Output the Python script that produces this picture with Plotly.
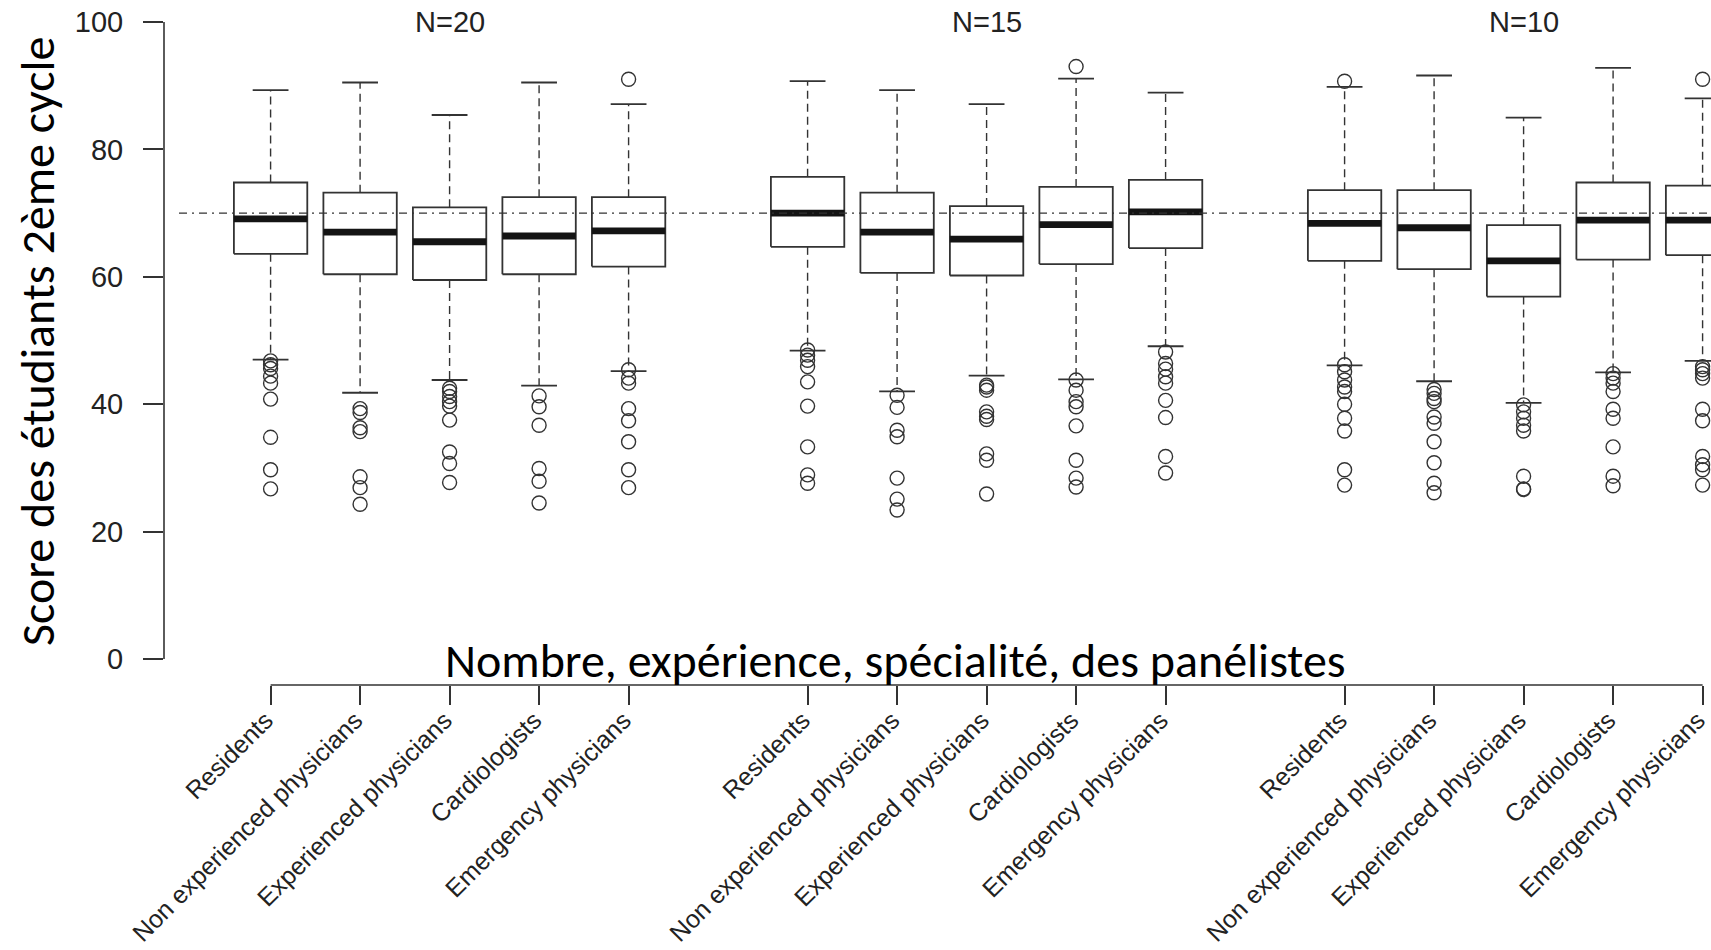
import plotly.graph_objects as go

# ---------------- data ----------------
groups = ["N=20", "N=15", "N=10"]
categories = ["Residents", "Non experienced physicians", "Experienced physicians",
              "Cardiologists", "Emergency physicians"]
positions = [1, 2, 3, 4, 5, 7, 8, 9, 10, 11, 13, 14, 15, 16, 17]
group_centers = [3, 9, 15]

q1 = [63.6, 60.4, 59.5, 60.4, 61.6,
      64.7, 60.6, 60.2, 62.0, 64.5,
      62.5, 61.2, 56.9, 62.7, 63.4]
medians = [69.1, 67.0, 65.5, 66.4, 67.2,
           70.0, 67.0, 65.9, 68.2, 70.2,
           68.4, 67.7, 62.5, 68.9, 68.9]
q3 = [74.8, 73.2, 70.9, 72.5, 72.5,
      75.7, 73.2, 71.1, 74.1, 75.2,
      73.6, 73.6, 68.1, 74.8, 74.3]
lower_whisker = [47.0, 41.8, 43.8, 42.9, 45.2,
                 48.4, 42.0, 44.5, 43.9, 49.1,
                 46.1, 43.6, 40.2, 45.0, 46.8]
upper_whisker = [89.3, 90.5, 85.4, 90.5, 87.1,
                 90.7, 89.3, 87.1, 91.1, 88.9,
                 89.8, 91.6, 85.0, 92.8, 88.0]
outliers = [
    [46.8, 46.2, 45.6, 44.4, 43.3, 40.8, 34.8, 29.7, 26.7],
    [39.3, 38.7, 36.3, 35.7, 28.6, 26.9, 24.3],
    [42.5, 42.0, 41.2, 40.4, 39.7, 37.5, 32.5, 30.7, 27.7],
    [41.3, 39.6, 36.7, 29.9, 27.9, 24.5],
    [91.0, 45.4, 44.1, 43.3, 39.3, 37.4, 34.1, 29.7, 26.9],
    [48.5, 47.7, 46.9, 45.9, 43.5, 39.7, 33.3, 28.9, 27.6],
    [41.4, 39.5, 35.9, 34.9, 28.4, 25.1, 23.4],
    [43.0, 42.7, 42.2, 38.8, 38.1, 37.6, 32.2, 31.2, 25.9],
    [93.0, 43.8, 42.2, 40.4, 39.6, 36.6, 31.2, 28.4, 27.0],
    [48.2, 46.4, 45.5, 44.3, 43.3, 40.6, 37.9, 31.8, 29.2],
    [90.7, 46.2, 45.1, 43.8, 42.7, 42.0, 40.0, 37.8, 35.8, 29.7, 27.3],
    [42.3, 41.7, 40.9, 40.4, 38.0, 37.0, 34.1, 30.8, 27.6, 26.1],
    [39.9, 38.8, 37.8, 36.7, 35.8, 28.7, 26.7, 26.6],
    [44.8, 44.1, 43.3, 42.0, 39.2, 37.8, 33.3, 28.7, 27.2],
    [91.0, 45.9, 45.4, 44.8, 44.1, 39.2, 37.4, 31.8, 30.5, 29.7, 27.3],
]
reference_line = 70
y_ticks = [0, 20, 40, 60, 80, 100]
tick_labels = categories * 3
y_title = "Score des étudiants 2ème cycle"
x_title = "Nombre, expérience, spécialité, des panélistes"

# ---------------- styling ----------------
BW = 0.41      # half box width
CAP = 0.2      # half cap width
LINE = "#333333"
W, H = 1711, 950
ML, MB = 164, 265

box_x, box_y = [], []
med_x, med_y = [], []
wh_x, wh_y = [], []
cap_x, cap_y = [], []
out_x, out_y = [], []
for i, p in enumerate(positions):
    box_x += [p - BW, p + BW, p + BW, p - BW, p - BW, None]
    box_y += [q1[i], q1[i], q3[i], q3[i], q1[i], None]
    med_x += [p - BW, p + BW, None]
    med_y += [medians[i], medians[i], None]
    wh_x += [p, p, None, p, p, None]
    wh_y += [q3[i], upper_whisker[i], None, q1[i], lower_whisker[i], None]
    cap_x += [p - CAP, p + CAP, None, p - CAP, p + CAP, None]
    cap_y += [upper_whisker[i], upper_whisker[i], None,
              lower_whisker[i], lower_whisker[i], None]
    for v in outliers[i]:
        out_x.append(p)
        out_y.append(v)

fig = go.Figure()
fig.add_trace(go.Scatter(x=wh_x, y=wh_y, mode="lines",
                         line=dict(color=LINE, width=1.4, dash="8px,5px"),
                         hoverinfo="skip"))
fig.add_trace(go.Scatter(x=box_x, y=box_y, mode="lines",
                         line=dict(color=LINE, width=1.8), hoverinfo="skip"))
fig.add_trace(go.Scatter(x=cap_x, y=cap_y, mode="lines",
                         line=dict(color=LINE, width=1.8), hoverinfo="skip"))
fig.add_trace(go.Scatter(x=med_x, y=med_y, mode="lines",
                         line=dict(color="#141414", width=6.8), hoverinfo="skip"))
fig.add_trace(go.Scatter(x=out_x, y=out_y, mode="markers",
                         marker=dict(symbol="circle-open", size=14, color=LINE,
                                     line=dict(color=LINE, width=1.4)),
                         hoverinfo="skip"))

plot_w = W - ML
plot_h = H - MB
# reference dash-dot line
fig.add_shape(type="line", xref="paper", yref="y",
              x0=15 / plot_w, x1=1, y0=reference_line, y1=reference_line,
              line=dict(color=LINE, width=1.4, dash="8px,5px,2px,5px"),
              layer="above")
# y axis line (0..100)
fig.add_shape(type="line", xref="paper", yref="y", x0=0, x1=0,
              y0=y_ticks[0], y1=y_ticks[-1],
              line=dict(color=LINE, width=1.6))
# x axis line (first to last tick)
fig.add_shape(type="line", xref="x", yref="paper", x0=positions[0],
              x1=positions[-1], y0=0, y1=0,
              line=dict(color=LINE, width=1.6))

for g, c in zip(groups, group_centers):
    fig.add_annotation(x=c, xref="x", y=1 - 22 / plot_h, yref="paper",
                       text=g, showarrow=False, yanchor="middle",
                       font=dict(family="Liberation Sans, Arial", size=29,
                                 color="#222222"))

fig.add_annotation(x=-(164 - 38) / plot_w, xref="paper", y=1 - 342 / plot_h,
                   yref="paper", text=y_title, textangle=-90, showarrow=False,
                   xanchor="center", yanchor="middle",
                   font=dict(family="Carlito, Lato, sans-serif", size=48,
                             color="black"))
fig.add_annotation(x=(895 - 164) / plot_w, xref="paper", y=1 - 660 / plot_h,
                   yref="paper", text=x_title, showarrow=False,
                   xanchor="center", yanchor="middle",
                   font=dict(family="Carlito, Lato, sans-serif", size=48,
                             color="black"))

fig.update_layout(
    width=W, height=H,
    margin=dict(l=ML, r=0, t=0, b=MB, pad=0),
    paper_bgcolor="white", plot_bgcolor="white",
    showlegend=False,
    font=dict(family="Liberation Sans, Arial", color="#222222"),
    xaxis=dict(range=[-0.191, 17.094], tickmode="array", tickvals=positions,
               ticktext=[t + "\u00a0" for t in tick_labels],
               tickangle=-45, ticks="outside",
               ticklen=19, tickwidth=1.6, tickcolor=LINE,
               showline=False, showgrid=False, zeroline=False,
               ticklabelstandoff=-14, ticklabeloverflow="allow",
               tickfont=dict(family="Liberation Sans, Arial", size=25,
                             color="#222222"),
               automargin=False),
    yaxis=dict(range=[-4.08, 103.45], tickmode="array", tickvals=y_ticks,
               ticks="outside", ticklen=20, tickwidth=1.6, tickcolor=LINE,
               showline=False, showgrid=False, zeroline=False,
               ticklabelstandoff=14,
               tickfont=dict(family="Liberation Sans, Arial", size=29,
                             color="#222222"),
               automargin=False),
)

fig.write_html("out.html",
               config={"displayModeBar": False},
               post_script="document.body.style.margin='0';"
                           "document.body.style.overflow='hidden';")
